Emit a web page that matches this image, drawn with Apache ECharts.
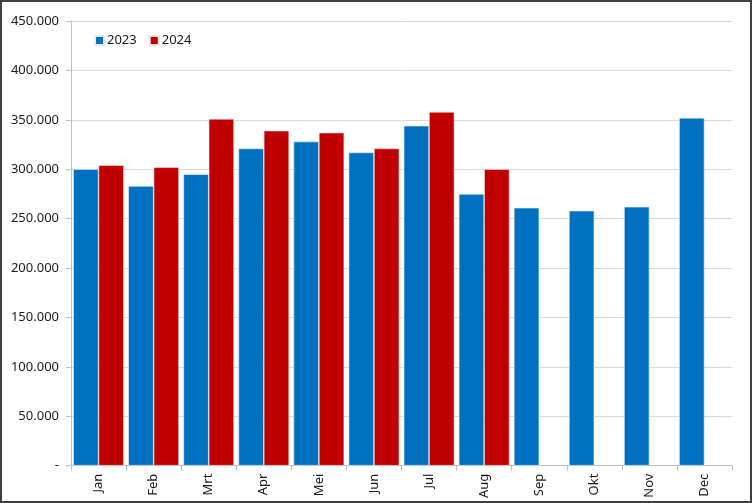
<!DOCTYPE html>
<html>
<head>
<meta charset="utf-8">
<script src="https://cdn.jsdelivr.net/npm/echarts@6/dist/echarts.min.js"></script>
<style>
  html, body { margin: 0; padding: 0; background: #fff; }
  #chart {
    width: 752px;
    height: 503px;
    box-sizing: border-box;
    border: 2px solid #404040;
  }
</style>
</head>
<body>
<div id="chart"></div>
<script>
// monthly values (in units)
const months = ["Jan", "Feb", "Mrt", "Apr", "Mei", "Jun", "Jul", "Aug", "Sep", "Okt", "Nov", "Dec"];
const values2023 = [300000, 283000, 295000, 321000, 328000, 317000, 344000, 275000, 261000, 258000, 262000, 352000];
const values2024 = [304000, 302000, 351000, 339000, 337000, 321000, 358000, 300000, null, null, null, null];
const seriesNames = ["2023", "2024"];

const fmt = (v) => {
  if (v === 0) return "-";
  return String(v).replace(/\B(?=(\d{3})+(?!\d))/g, ".") ;
};

const myChart = echarts.init(document.getElementById("chart"));
const option = {
  animation: false,
  textStyle: { fontFamily: "Noto Sans" },
  legend: {
    left: 87,
    top: 27,
    itemWidth: 9,
    itemHeight: 9,
    itemGap: 12,
    icon: "rect",
    textStyle: { color: "#1a1a1a", fontSize: 13, padding: [0, 0, 0, -2] },
    data: seriesNames,
  },
  grid: {
    left: 69,
    right: 18,
    top: 19,
    bottom: 35,
    containLabel: false,
  },
  xAxis: {
    type: "category",
    data: months,
    boundaryGap: true,
    axisLine: { lineStyle: { color: "#bfbfbf", width: 1 } },
    axisTick: { show: true, length: 5, lineStyle: { color: "#bfbfbf" } },
    axisLabel: { rotate: 90, color: "#1a1a1a", fontSize: 13, margin: 8 },
  },
  yAxis: {
    type: "value",
    min: 0,
    max: 450000,
    interval: 50000,
    axisLine: { show: true, lineStyle: { color: "#bfbfbf", width: 1 } },
    axisTick: { show: true, length: 5, lineStyle: { color: "#bfbfbf" } },
    axisLabel: { color: "#1a1a1a", fontSize: 13, margin: 12, formatter: fmt },
    splitLine: { lineStyle: { color: "#d9d9d9" } },
  },
  series: [
    {
      name: seriesNames[0],
      type: "bar",
      data: values2023,
      barGap: "0%",
      barCategoryGap: "8%",
      itemStyle: { color: "#0070c0", borderColor: "#e6eef8", borderWidth: 0.6 },
    },
    {
      name: seriesNames[1],
      type: "bar",
      data: values2024,
      itemStyle: { color: "#c00000", borderColor: "#f5e0e0", borderWidth: 0.6 },
    },
  ],
};
myChart.setOption(option);
</script>
</body>
</html>
